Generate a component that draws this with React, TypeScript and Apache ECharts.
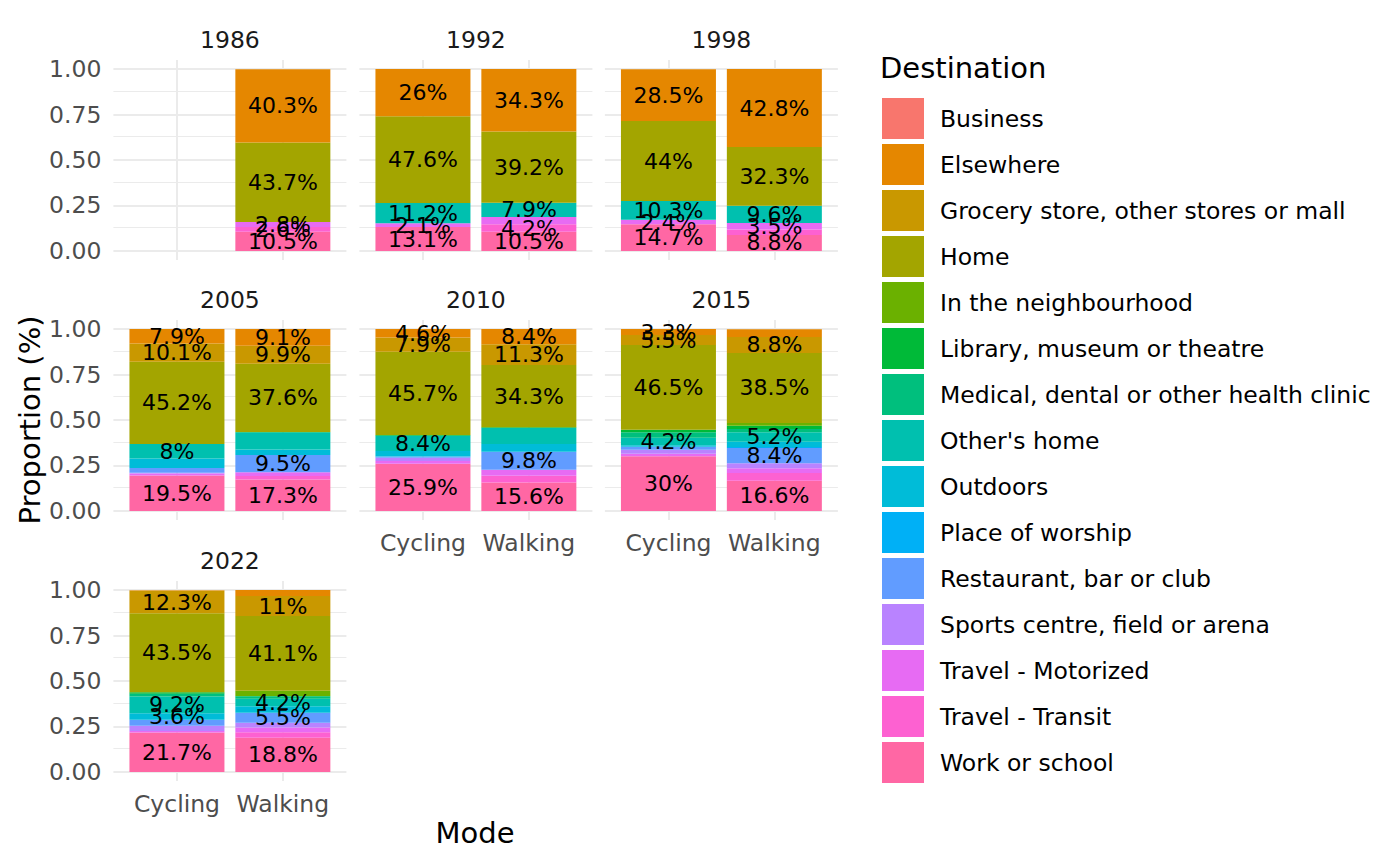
import { useEffect, useRef } from 'react';
import * as echarts from 'echarts';

const destinations = [
  'Business',
  'Elsewhere',
  'Grocery store, other stores or mall',
  'Home',
  'In the neighbourhood',
  'Library, museum or theatre',
  'Medical, dental or other health clinic',
  "Other's home",
  'Outdoors',
  'Place of worship',
  'Restaurant, bar or club',
  'Sports centre, field or arena',
  'Travel - Motorized',
  'Travel - Transit',
  'Work or school',
];

const colours = [
  '#F8766D', '#E58700', '#C99800', '#A3A500', '#6BB100',
  '#00BA38', '#00BF7D', '#00C0AF', '#00BCD8', '#00B0F6',
  '#619CFF', '#B983FF', '#E76BF3', '#FD61D1', '#FF67A4',
];

const years = ['1986', '1992', '1998', '2005', '2010', '2015', '2022'];
const modes = ['Cycling', 'Walking'];

// share of trips (%) per destination, same order as `destinations`
const cycling1986: number[] = []; // no cycling trips recorded
const walking1986 = [0, 40.3, 0, 43.7, 0, 0, 0, 0, 0, 0, 0, 0, 2.8, 2.6, 10.5];
const cycling1992 = [0, 26, 0, 47.6, 0, 0, 0, 11.2, 0, 0, 0, 0, 2.1, 0, 13.1];
const walking1992 = [0, 34.3, 0, 39.2, 0, 0, 0, 7.9, 0, 0, 0, 0, 3.9, 4.2, 10.5];
const cycling1998 = [0, 28.5, 0, 44, 0, 0, 0, 10.3, 0, 0, 0, 0, 2.4, 0, 14.7];
const walking1998 = [0, 42.8, 0, 32.3, 0, 0, 0, 9.6, 0, 0, 0, 0, 3.5, 3.0, 8.8];
const cycling2005 = [0, 7.9, 10.1, 45.2, 0, 0, 0, 8, 5.2, 0, 2.6, 0.4, 1.1, 0, 19.5];
const walking2005 = [0, 9.1, 9.9, 37.6, 0, 0, 0.4, 9.2, 3.1, 0, 9.5, 0, 2.0, 1.9, 17.3];
const cycling2010 = [0, 4.6, 7.9, 45.7, 0, 0.5, 0, 8.4, 3.0, 0, 0.6, 1.8, 1.6, 0, 25.9];
const walking2010 = [0, 8.4, 11.3, 34.3, 0, 0.4, 0, 8.8, 4.3, 0, 9.8, 0, 3.4, 3.7, 15.6];
const cycling2015 = [0, 3.3, 5.5, 46.5, 0, 1.4, 3.0, 4.2, 0.8, 0, 1.6, 2.2, 1.5, 0, 30];
const walking2015 = [0, 4.2, 8.8, 38.5, 1.5, 1.8, 1.8, 5.2, 3.0, 0.5, 8.4, 2.7, 2.7, 4.2, 16.6];
const cycling2022 = [0, 0.3, 12.3, 43.5, 0, 0.8, 1.5, 9.2, 3.6, 0, 3.3, 2.9, 0.8, 0, 21.7];
const walking2022 = [0, 3.3, 11, 41.1, 2.8, 0.2, 1.3, 4.2, 3.6, 0, 5.5, 2.6, 2.6, 3.0, 18.8];

const cyclingByYear = [cycling1986, cycling1992, cycling1998, cycling2005, cycling2010, cycling2015, cycling2022];
const walkingByYear = [walking1986, walking1992, walking1998, walking2005, walking2010, walking2015, walking2022];

// which destinations carry a text label in each bar
const labelledCycling = [[], [1, 3, 7, 12, 14], [1, 3, 7, 12, 14], [1, 2, 3, 7, 14], [1, 2, 3, 7, 14], [1, 2, 3, 7, 14], [2, 3, 7, 8, 14]];
const labelledWalking = [[1, 3, 12, 13, 14], [1, 3, 7, 13, 14], [1, 3, 7, 12, 14], [1, 2, 3, 10, 14], [1, 2, 3, 10, 14], [2, 3, 7, 10, 14], [2, 3, 7, 10, 14]];

const yTicks = [0, 0.25, 0.5, 0.75, 1];
const yMinor = [0.125, 0.375, 0.625, 0.875];

// discrete x scale: 0.6 band of padding either side of the two modes,
// laid out as 12 evenly spaced slots (step 0.2) with modes on slots 3 and 8
const xSlots = ['p0', 'p1', 'p2', 'Cycling', 'p4', 'p5', 'p6', 'p7', 'Walking', 'p9', 'p10', 'p11'];

const FONT = 'DejaVu Sans';
const SMALL = 23.5;
const LARGE = 29;
const colLeft = [113.4, 359.4, 604.9];
const rowTop = [60, 320, 581];
const panelW = 233;
const panelH = 200;

export default function App() {
  const ref = useRef<HTMLDivElement>(null);

  useEffect(() => {
    if (!ref.current) return;
    const chart = echarts.init(ref.current, null, { renderer: 'svg' });

    const grids: any[] = [];
    const xAxes: any[] = [];
    const yAxes: any[] = [];
    const series: any[] = [];
    const graphics: any[] = [];

    const major = { color: '#EBEBEB', width: 2, type: 'solid' };
    const minor = { color: '#EBEBEB', width: 1.2, type: 'solid' };

    years.forEach((year, g) => {
      const row = Math.floor(g / 3);
      const col = g % 3;
      const left = colLeft[col];
      const top = rowTop[row];
      grids.push({ left, top, width: panelW, height: panelH, containLabel: false });

      const showX = g >= 4;
      const showY = col === 0;
      xAxes.push({
        type: 'category',
        gridIndex: g,
        data: xSlots,
        boundaryGap: false,
        axisLine: { show: false },
        axisTick: { show: false },
        splitLine: { show: false },
        axisLabel: {
          show: showX,
          interval: 0,
          formatter: (v: string) => (modes.includes(v) ? v : ''),
          margin: 11,
          color: '#4D4D4D',
          fontSize: SMALL,
          fontFamily: FONT,
        },
      });
      yAxes.push({
        type: 'value',
        gridIndex: g,
        min: -0.05,
        max: 1.05,
        axisLine: { show: false },
        axisTick: { show: false },
        splitLine: { show: false },
        axisLabel: {
          show: showY,
          customValues: yTicks,
          formatter: (v: number) => v.toFixed(2),
          margin: 12,
          color: '#4D4D4D',
          fontSize: SMALL,
          fontFamily: FONT,
        },
      });

      graphics.push({
        type: 'text',
        x: left + panelW / 2,
        y: top - 20,
        style: {
          text: year,
          fontSize: SMALL,
          fontFamily: FONT,
          fill: '#1A1A1A',
          textAlign: 'center',
          textVerticalAlign: 'middle',
        },
      });

      const c = cyclingByYear[g];
      const w = walkingByYear[g];
      for (let d = destinations.length - 1; d >= 0; d--) {
        const cv = c[d] ?? 0;
        const wv = w[d] ?? 0;
        const s: any = {
          type: 'bar',
          name: destinations[d],
          xAxisIndex: g,
          yAxisIndex: g,
          stack: 'facet' + g,
          barWidth: 95,
          itemStyle: { color: colours[d] },
          emphasis: { disabled: true },
          label: {
            show: true,
            position: 'inside',
            color: '#000',
            fontSize: 22,
            fontFamily: FONT,
            formatter: (p: any) => p.data.pct + '%',
          },
          data: [
            { value: ['Cycling', cv / 100], pct: cv, label: { show: labelledCycling[g].includes(d) } },
            { value: ['Walking', wv / 100], pct: wv, label: { show: labelledWalking[g].includes(d) } },
          ],
        };
        if (d === destinations.length - 1) {
          s.markLine = {
            silent: true,
            z: 1,
            symbol: ['none', 'none'],
            label: { show: false },
            data: [
              ...yMinor.map((v) => ({ yAxis: v, lineStyle: minor })),
              ...yTicks.map((v) => ({ yAxis: v, lineStyle: major })),
              ...modes.map((m) => ({ xAxis: m, lineStyle: major })),
            ],
          };
        }
        series.push(s);
      }
    });

    graphics.push(
      {
        type: 'text',
        x: 30,
        y: 420,
        rotation: Math.PI / 2,
        style: {
          text: 'Proportion (%)',
          fontSize: LARGE,
          fontFamily: FONT,
          fill: '#000',
          textAlign: 'center',
          textVerticalAlign: 'middle',
        },
      },
      {
        type: 'text',
        x: 475,
        y: 833,
        style: {
          text: 'Mode',
          fontSize: LARGE,
          fontFamily: FONT,
          fill: '#000',
          textAlign: 'center',
          textVerticalAlign: 'middle',
        },
      },
      {
        type: 'text',
        x: 880,
        y: 68,
        style: {
          text: 'Destination',
          fontSize: LARGE,
          fontFamily: FONT,
          fill: '#000',
          textAlign: 'left',
          textVerticalAlign: 'middle',
        },
      }
    );

    chart.setOption({
      animation: false,
      textStyle: { fontFamily: FONT },
      grid: grids,
      xAxis: xAxes,
      yAxis: yAxes,
      series,
      graphic: graphics,
      legend: {
        data: destinations,
        orient: 'vertical',
        left: 882,
        top: 98,
        padding: 0,
        icon: 'rect',
        itemWidth: 42,
        itemHeight: 41,
        itemGap: 5,
        selectedMode: false,
        textStyle: {
          fontSize: SMALL,
          fontFamily: FONT,
          color: '#000',
          padding: [0, 0, 0, 11],
        },
      },
    });

    return () => {
      chart.dispose();
    };
  }, []);

  return (
    <div
      ref={ref}
      style={{ position: 'fixed', left: 0, top: 0, width: 1400, height: 865, background: '#fff' }}
    />
  );
}
